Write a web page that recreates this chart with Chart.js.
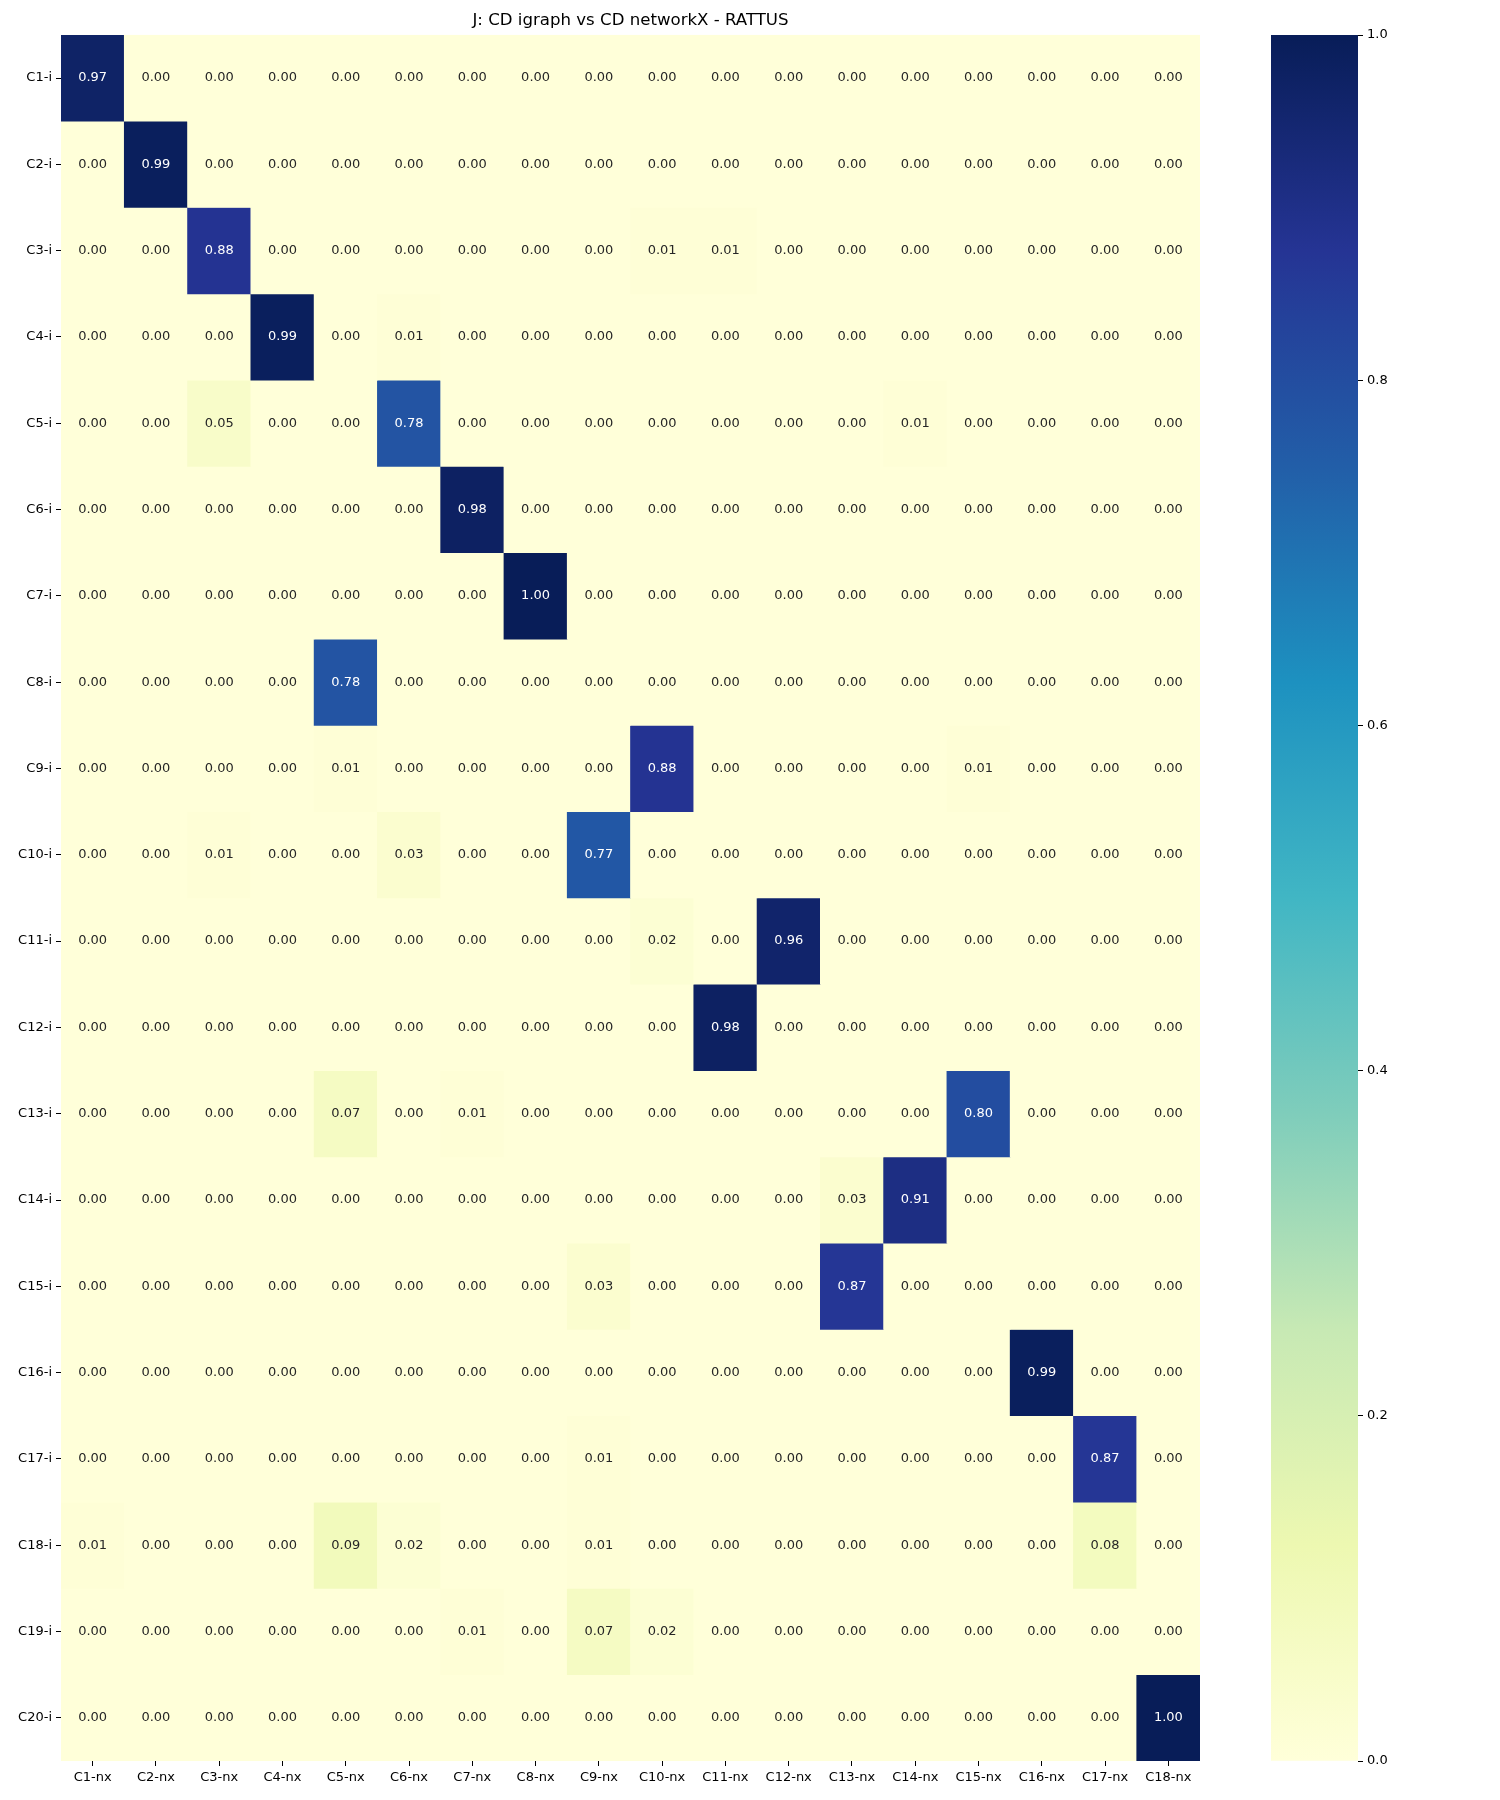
<!DOCTYPE html>
<html>
<head>
<meta charset="utf-8">
<title>J: CD igraph vs CD networkX - RATTUS</title>
<script src="https://cdn.jsdelivr.net/npm/chart.js@4.4.0/dist/chart.umd.min.js"></script>
<style>
    body { margin: 0; background: #fff; }
    #wrap { position: relative; width: 1500px; height: 1800px; }
    #heat { position: absolute; left: 0; top: 0; }
    #cbar { position: absolute; left: 1271px; top: 0; }
</style>
</head>
<body>
<div id="wrap">
    <canvas id="heat" width="1240" height="1800"></canvas>
    <canvas id="cbar" width="229" height="1800"></canvas>
</div>
<script>
// Rótulos das colunas (networkX) e linhas (igraph)
const colLabels = ['C1-nx', 'C2-nx', 'C3-nx', 'C4-nx', 'C5-nx', 'C6-nx', 'C7-nx', 'C8-nx', 'C9-nx',
    'C10-nx', 'C11-nx', 'C12-nx', 'C13-nx', 'C14-nx', 'C15-nx', 'C16-nx', 'C17-nx', 'C18-nx'];
const rowLabels = ['C1-i', 'C2-i', 'C3-i', 'C4-i', 'C5-i', 'C6-i', 'C7-i', 'C8-i', 'C9-i', 'C10-i',
    'C11-i', 'C12-i', 'C13-i', 'C14-i', 'C15-i', 'C16-i', 'C17-i', 'C18-i', 'C19-i', 'C20-i'];

// Índice de Jaccard (uma linha por comunidade igraph)
const valores = [
    [0.97, 0, 0, 0, 0, 0, 0, 0, 0, 0, 0, 0, 0, 0, 0, 0, 0, 0],
    [0, 0.99, 0, 0, 0, 0, 0, 0, 0, 0, 0, 0, 0, 0, 0, 0, 0, 0],
    [0, 0, 0.88, 0, 0, 0, 0, 0, 0, 0.01, 0.01, 0, 0, 0, 0, 0, 0, 0],
    [0, 0, 0, 0.99, 0, 0.01, 0, 0, 0, 0, 0, 0, 0, 0, 0, 0, 0, 0],
    [0, 0, 0.05, 0, 0, 0.78, 0, 0, 0, 0, 0, 0, 0, 0.01, 0, 0, 0, 0],
    [0, 0, 0, 0, 0, 0, 0.98, 0, 0, 0, 0, 0, 0, 0, 0, 0, 0, 0],
    [0, 0, 0, 0, 0, 0, 0, 1.00, 0, 0, 0, 0, 0, 0, 0, 0, 0, 0],
    [0, 0, 0, 0, 0.78, 0, 0, 0, 0, 0, 0, 0, 0, 0, 0, 0, 0, 0],
    [0, 0, 0, 0, 0.01, 0, 0, 0, 0, 0.88, 0, 0, 0, 0, 0.01, 0, 0, 0],
    [0, 0, 0.01, 0, 0, 0.03, 0, 0, 0.77, 0, 0, 0, 0, 0, 0, 0, 0, 0],
    [0, 0, 0, 0, 0, 0, 0, 0, 0, 0.02, 0, 0.96, 0, 0, 0, 0, 0, 0],
    [0, 0, 0, 0, 0, 0, 0, 0, 0, 0, 0.98, 0, 0, 0, 0, 0, 0, 0],
    [0, 0, 0, 0, 0.07, 0, 0.01, 0, 0, 0, 0, 0, 0, 0, 0.80, 0, 0, 0],
    [0, 0, 0, 0, 0, 0, 0, 0, 0, 0, 0, 0, 0.03, 0.91, 0, 0, 0, 0],
    [0, 0, 0, 0, 0, 0, 0, 0, 0.03, 0, 0, 0, 0.87, 0, 0, 0, 0, 0],
    [0, 0, 0, 0, 0, 0, 0, 0, 0, 0, 0, 0, 0, 0, 0, 0.99, 0, 0],
    [0, 0, 0, 0, 0, 0, 0, 0, 0.01, 0, 0, 0, 0, 0, 0, 0, 0.87, 0],
    [0.01, 0, 0, 0, 0.09, 0.02, 0, 0, 0.01, 0, 0, 0, 0, 0, 0, 0, 0.08, 0],
    [0, 0, 0, 0, 0, 0, 0.01, 0, 0.07, 0.02, 0, 0, 0, 0, 0, 0, 0, 0],
    [0, 0, 0, 0, 0, 0, 0, 0, 0, 0, 0, 0, 0, 0, 0, 0, 0, 1.00]
];

// Ticks da barra de cores
const cbarTicks = [0, 0.2, 0.4, 0.6, 0.8, 1.0];

const fonte = 'DejaVu Sans';

// Mapa de cores YlGnBu (matplotlib)
const ylgnbu = ['#ffffd9', '#edf8b1', '#c7e9b4', '#7fcdbb', '#41b6c4', '#1d91c0', '#225ea8', '#253494', '#081d58'];

function hexParaRgb(h) {
    return [parseInt(h.substr(1, 2), 16), parseInt(h.substr(3, 2), 16), parseInt(h.substr(5, 2), 16)];
}

function corRgb(v) {
    const t = Math.max(0, Math.min(1, v)) * (ylgnbu.length - 1);
    const i = Math.min(Math.floor(t), ylgnbu.length - 2);
    const f = t - i;
    const a = hexParaRgb(ylgnbu[i]);
    const b = hexParaRgb(ylgnbu[i + 1]);
    return a.map((c, k) => Math.round(c + (b[k] - c) * f));
}

function cor(v) {
    const [r, g, b] = corRgb(v);
    return `rgb(${r}, ${g}, ${b})`;
}

// Texto branco em células escuras (mesma regra do seaborn)
function corTexto(v) {
    const lin = corRgb(v).map(c => {
        c = c / 255;
        return c <= 0.03928 ? c / 12.92 : Math.pow((c + 0.055) / 1.055, 2.4);
    });
    const lum = 0.2126 * lin[0] + 0.7152 * lin[1] + 0.0722 * lin[2];
    return lum > 0.408 ? '#262626' : '#ffffff';
}

// Fundo da área do gráfico (evita frestas entre as células)
const fundoPlugin = {
    id: 'fundo',
    beforeDatasetsDraw(chart) {
        const a = chart.chartArea;
        chart.ctx.save();
        chart.ctx.fillStyle = cor(0);
        chart.ctx.fillRect(a.left, a.top, a.right - a.left, a.bottom - a.top);
        chart.ctx.restore();
    }
};

// Anotações com os valores em cada célula
const anotacoesPlugin = {
    id: 'anotacoes',
    afterDatasetsDraw(chart) {
        const ctx = chart.ctx;
        ctx.save();
        ctx.font = `13px "${fonte}"`;
        ctx.textAlign = 'center';
        ctx.textBaseline = 'middle';
        chart.data.datasets.forEach((ds, r) => {
            chart.getDatasetMeta(r).data.forEach((bar, c) => {
                const v = valores[r][c];
                const p = bar.getCenterPoint();
                ctx.fillStyle = corTexto(v);
                ctx.fillText(v.toFixed(2), p.x, p.y);
            });
        });
        ctx.restore();
    }
};

const eixoGrid = { drawOnChartArea: false, offset: false, tickLength: 5, tickColor: '#000', lineWidth: 1 };
const eixoTicks = { color: '#000', font: { family: fonte, size: 13 }, padding: 4 };

// Cada linha vira um dataset de barras flutuantes [r, r+1]
const datasets = rowLabels.map((nome, r) => ({
    label: nome,
    data: colLabels.map(() => [r, r + 1]),
    backgroundColor: valores[r].map(v => cor(v)),
    borderWidth: 0,
    barPercentage: 1,
    categoryPercentage: 1
}));

new Chart(document.getElementById('heat'), {
    type: 'bar',
    data: { labels: colLabels, datasets: datasets },
    options: {
        responsive: false,
        animation: false,
        layout: { padding: { right: 40 } },
        plugins: {
            legend: { display: false },
            tooltip: { enabled: false },
            title: {
                display: true,
                fullSize: false,
                text: 'J: CD igraph vs CD networkX - RATTUS',
                color: '#000',
                font: { family: fonte, size: 16.6, weight: 'normal', lineHeight: 1.2 },
                padding: { top: 11, bottom: 4 }
            }
        },
        scales: {
            x: {
                type: 'category',
                stacked: true,
                grid: eixoGrid,
                border: { display: false },
                ticks: Object.assign({ maxRotation: 0, autoSkip: false }, eixoTicks),
                afterFit: s => { s.height = 39; }
            },
            y: {
                type: 'linear',
                min: 0,
                max: 20,
                reverse: true,
                stacked: false,
                afterBuildTicks: s => { s.ticks = rowLabels.map((_, i) => ({ value: i + 0.5 })); },
                grid: eixoGrid,
                border: { display: false },
                ticks: Object.assign({ callback: (v, i) => rowLabels[i] }, eixoTicks),
                afterFit: s => { s.width = 61; }
            }
        }
    },
    plugins: [fundoPlugin, anotacoesPlugin]
});

// Barra de cores
new Chart(document.getElementById('cbar'), {
    type: 'bar',
    data: {
        labels: [''],
        datasets: [{
            data: [[0, 1]],
            backgroundColor: c => {
                const a = c.chart.chartArea;
                if (!a) return cor(0);
                const g = c.chart.ctx.createLinearGradient(0, a.bottom, 0, a.top);
                ylgnbu.forEach((h, i) => g.addColorStop(i / (ylgnbu.length - 1), h));
                return g;
            },
            borderWidth: 0,
            barPercentage: 1,
            categoryPercentage: 1
        }]
    },
    options: {
        responsive: false,
        animation: false,
        layout: { padding: { top: 35, bottom: 39 } },
        plugins: { legend: { display: false }, tooltip: { enabled: false } },
        scales: {
            x: { display: false },
            y: {
                position: 'right',
                min: 0,
                max: 1,
                afterBuildTicks: s => { s.ticks = cbarTicks.map(v => ({ value: v })); },
                grid: { drawOnChartArea: false, tickLength: 5, tickColor: '#000' },
                border: { display: false },
                ticks: Object.assign({ callback: v => v.toFixed(1) }, eixoTicks),
                afterFit: s => { s.width = 142; }
            }
        }
    }
});
</script>
</body>
</html>
